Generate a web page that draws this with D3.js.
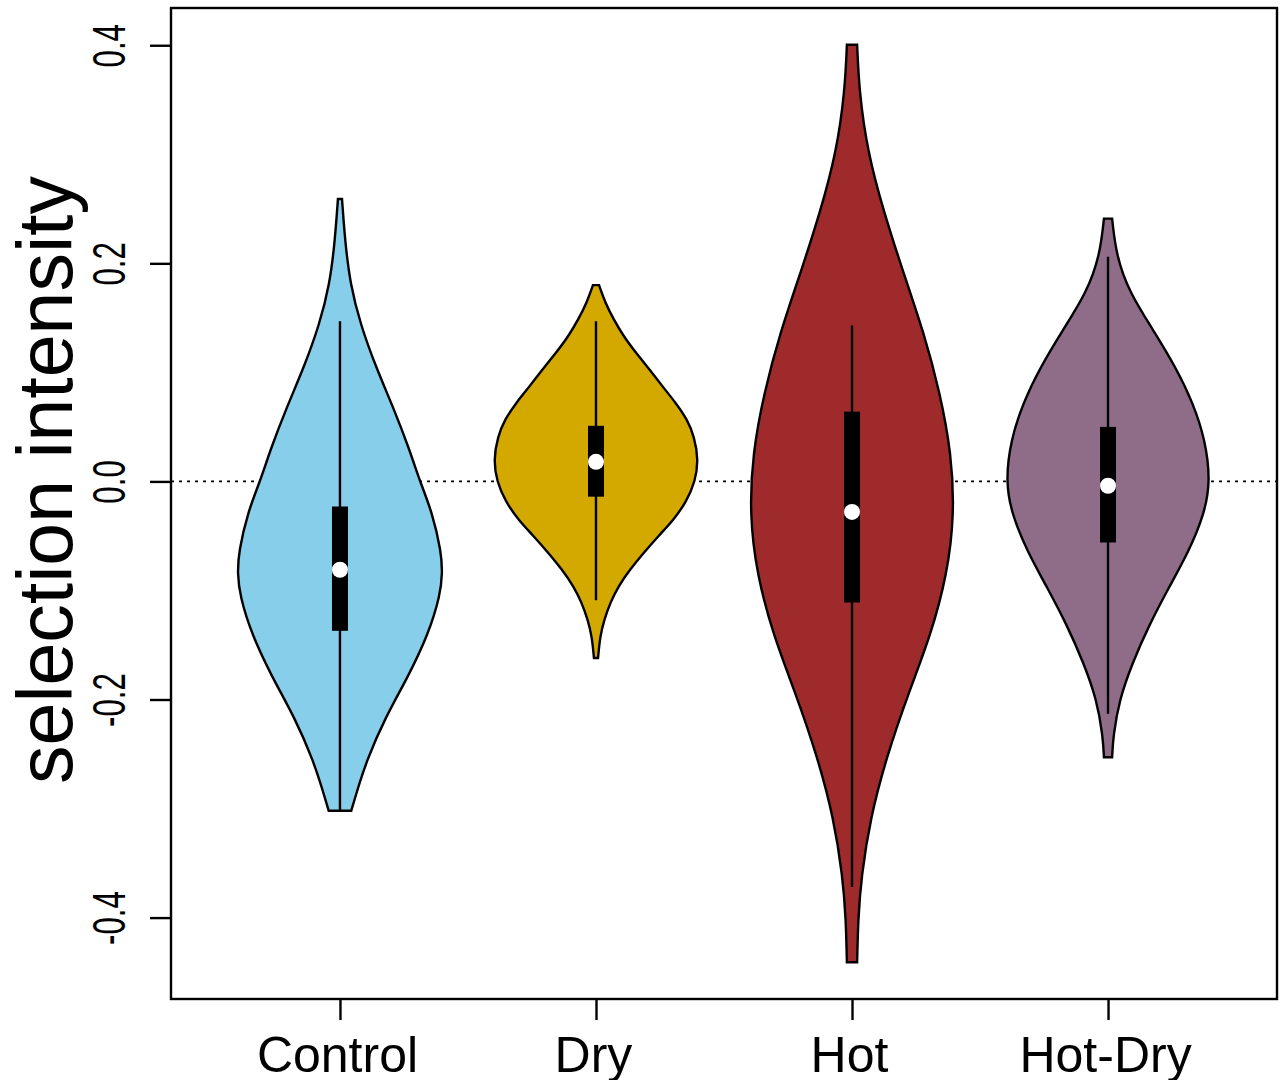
<!DOCTYPE html>
<html>
<head>
<meta charset="utf-8">
<script src="https://cdn.jsdelivr.net/npm/d3@7"></script>
<style>
  body { margin: 0; background: #fff; }
  text { font-family: "Liberation Sans", Arial, Helvetica, sans-serif; fill: #000; }
</style>
</head>
<body>
<div id="chart"></div>
<script>
// groups and fills
const categories = ["Control", "Dry", "Hot", "Hot-Dry"];
const fills = ["#87CEEB", "#D3A900", "#9E2A2B", "#8F6D88"];

// violin outlines: value and relative width (1 = widest)
const controlValues = [0.259, 0.22, 0.181, 0.144, 0.105, 0.068, 0.029, 0.0, -0.028, -0.065, -0.084, -0.104, -0.141, -0.18, -0.217, -0.256, -0.286, -0.302];
const controlWidths = [0.02, 0.05, 0.10, 0.20, 0.35, 0.52, 0.68, 0.78, 0.90, 0.99, 1.0, 0.98, 0.86, 0.66, 0.44, 0.26, 0.16, 0.11];

const dryValues = [0.18, 0.164, 0.149, 0.133, 0.118, 0.103, 0.087, 0.072, 0.057, 0.041, 0.02, 0.0, -0.019, -0.035, -0.05, -0.065, -0.081, -0.096, -0.111, -0.127, -0.142, -0.162];
const dryWidths = [0.03, 0.09, 0.17, 0.27, 0.39, 0.52, 0.65, 0.78, 0.89, 0.96, 1.0, 0.97, 0.88, 0.76, 0.61, 0.47, 0.33, 0.22, 0.14, 0.08, 0.04, 0.02];

const hotValues = [0.4005, 0.358, 0.303, 0.247, 0.192, 0.137, 0.081, 0.026, -0.03, -0.085, -0.141, -0.197, -0.252, -0.308, -0.363, -0.401, -0.441];
const hotWidths = [0.05, 0.07, 0.15, 0.31, 0.50, 0.70, 0.86, 0.97, 1.0, 0.93, 0.77, 0.54, 0.34, 0.18, 0.09, 0.06, 0.05];

const hotDryValues = [0.241, 0.207, 0.173, 0.139, 0.105, 0.072, 0.038, 0.0, -0.03, -0.064, -0.098, -0.132, -0.166, -0.2, -0.234, -0.253];
const hotDryWidths = [0.04, 0.08, 0.21, 0.44, 0.66, 0.83, 0.95, 1.0, 0.94, 0.79, 0.59, 0.40, 0.24, 0.11, 0.05, 0.04];

// box plot summaries
const whiskerHigh = [0.147, 0.147, 0.143, 0.206];
const upperQuartile = [-0.023, 0.051, 0.064, 0.050];
const medians = [-0.081, 0.018, -0.028, -0.004];
const lowerQuartile = [-0.137, -0.014, -0.111, -0.056];
const whiskerLow = [-0.302, -0.109, -0.372, -0.213];

const yTicks = [-0.4, -0.2, 0.0, 0.2, 0.4];
const yTitle = "selection intensity";

const outlines = [
  [controlValues, controlWidths],
  [dryValues, dryWidths],
  [hotValues, hotWidths],
  [hotDryValues, hotDryWidths]
];

const width = 1284, height = 1080;
const margin = {top: 8, right: 7, bottom: 81, left: 171};

const svg = d3.select("#chart").append("svg")
  .attr("width", width)
  .attr("height", height);

// R style 4% padding around the data range
const allValues = d3.merge(outlines.map(o => o[0]));
const [lo, hi] = d3.extent(allValues);
const pad = (hi - lo) * 0.04;

const y = d3.scaleLinear()
  .domain([lo - pad, hi + pad])
  .range([height - margin.bottom, margin.top]);

const x = d3.scaleLinear()
  .domain([0.5 - 0.16, 4.5 + 0.16])
  .range([margin.left, width - margin.right]);

const maxHalf = 0.4; // half width of widest violin, in group units

// zero reference line
svg.append("line")
  .attr("x1", x.range()[0]).attr("x2", x.range()[1])
  .attr("y1", y(0)).attr("y2", y(0))
  .attr("stroke", "#000")
  .attr("stroke-width", 1.6)
  .attr("stroke-dasharray", "3,5");

// violins
outlines.forEach(function(o, i) {
  const c = i + 1;
  const pts = o[0].map((v, k) => ({v: v, w: o[1][k]}));
  const area = d3.area()
    .y(d => y(d.v))
    .x0(d => x(c - maxHalf * d.w))
    .x1(d => x(c + maxHalf * d.w))
    .curve(d3.curveBasis);
  svg.append("path")
    .attr("d", area(pts))
    .attr("fill", fills[i])
    .attr("stroke", "#000")
    .attr("stroke-width", 2.4);
});

// whiskers, boxes and medians
const boxHalf = 8;
categories.forEach(function(name, i) {
  const cx = x(i + 1);
  svg.append("line")
    .attr("x1", cx).attr("x2", cx)
    .attr("y1", y(whiskerHigh[i])).attr("y2", y(whiskerLow[i]))
    .attr("stroke", "#000")
    .attr("stroke-width", 2.4);
  svg.append("rect")
    .attr("x", cx - boxHalf)
    .attr("y", y(upperQuartile[i]))
    .attr("width", boxHalf * 2)
    .attr("height", y(lowerQuartile[i]) - y(upperQuartile[i]))
    .attr("fill", "#000");
  svg.append("circle")
    .attr("cx", cx)
    .attr("cy", y(medians[i]))
    .attr("r", 8)
    .attr("fill", "#fff");
});

// frame
svg.append("rect")
  .attr("x", margin.left).attr("y", margin.top)
  .attr("width", width - margin.right - margin.left)
  .attr("height", height - margin.bottom - margin.top)
  .attr("fill", "none")
  .attr("stroke", "#000")
  .attr("stroke-width", 2.4);

// y axis
const yAxis = svg.append("g")
  .attr("transform", `translate(${margin.left},0)`)
  .call(d3.axisLeft(y).tickValues(yTicks).tickSize(21).tickFormat(d => d.toFixed(1)));
yAxis.select(".domain").remove();
yAxis.selectAll(".tick line").attr("stroke-width", 2.4);
yAxis.selectAll(".tick text")
  .attr("x", null).attr("dy", null)
  .attr("transform", "translate(-46,0) rotate(-90) scale(0.68,1)")
  .attr("text-anchor", "middle")
  .style("font-size", "46px");

// x axis
const xAxis = svg.append("g")
  .attr("transform", `translate(0,${height - margin.bottom})`)
  .call(d3.axisBottom(x).tickValues([1, 2, 3, 4]).tickSize(21).tickFormat(d => categories[d - 1]));
xAxis.select(".domain").remove();
xAxis.selectAll(".tick line").attr("stroke-width", 2.4);
xAxis.selectAll(".tick text")
  .attr("x", -3)
  .attr("y", 73).attr("dy", null)
  .style("font-size", "50px");

// y title
svg.append("text")
  .attr("transform", "translate(72,480) rotate(-90)")
  .attr("text-anchor", "middle")
  .style("font-size", "77px")
  .text(yTitle);
</script>
</body>
</html>
